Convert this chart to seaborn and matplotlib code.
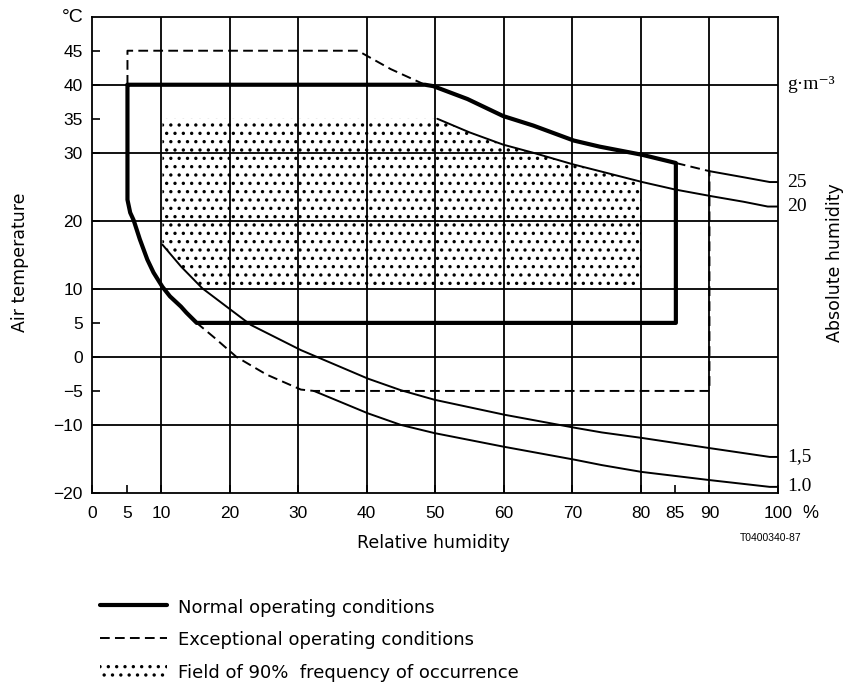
import matplotlib
matplotlib.use("Agg")
import matplotlib.pyplot as plt
from matplotlib.lines import Line2D
from matplotlib.patches import Patch
import seaborn as sns

# ------------------------------------------------------------------
# values
# ------------------------------------------------------------------
rh_ticks = [0, 5, 10, 20, 30, 40, 50, 60, 70, 80, 85, 90, 100]
temp_ticks = [-20, -10, -5, 0, 5, 10, 20, 30, 35, 40, 45]
rh_grid = [10, 20, 30, 40, 50, 60, 70, 80, 90]
temp_grid = [-10, 0, 10, 20, 30, 40]

# normal operating conditions (thick outline)
normal_rh = [5.1, 48.5, 49.7, 54.7, 59.9, 64.3, 70.2, 74.0, 80.2, 85.1, 85.1,
             15.2, 13.7, 12.9, 11.3, 10.2, 8.9, 8.0, 6.9, 6.0, 5.5, 5.1, 5.1]
normal_t = [40, 40, 39.8, 37.9, 35.4, 34.0, 31.8, 30.9, 29.7, 28.5, 5,
            5, 6.5, 7.4, 8.9, 10.3, 12.4, 14.3, 17.3, 20.1, 21.2, 23.1, 40]

# exceptional operating conditions (dashed outline, two pieces)
exc_top_rh = [5.1, 5.1, 38.7, 43.5, 48.5]
exc_top_t = [40, 45, 45, 42.3, 40]
exc_low_rh = [85.1, 90, 90, 32.3, 30.4, 25.4, 21.0, 17.7, 15.2]
exc_low_t = [28.5, 27.3, -5, -5, -4.8, -2.6, 0, 2.9, 5]

# absolute humidity isolines (thin), g/m3
ah25_rh = [90, 95, 98.8, 100]
ah25_t = [27.3, 26.4, 25.7, 25.7]
ah20_rh = [50.3, 55, 59.9, 64.3, 70.1, 74.0, 80.2, 85, 90.4, 95, 98.5, 100]
ah20_t = [35, 33.0, 31.2, 30.0, 28.3, 27.3, 25.7, 24.6, 23.6, 22.8, 22.1, 22.1]
ah15_rh = [10.2, 12.9, 16, 20.2, 23.1, 30.4, 40.2, 45, 49.9, 60.1, 70.3,
           74.3, 80.1, 90, 98.8, 100]
ah15_t = [16.5, 13.3, 10.1, 6.9, 4.7, 1.0, -3.2, -4.9, -6.3, -8.5, -10.4,
          -11.1, -11.9, -13.4, -14.7, -14.7]
ah10_rh = [32.3, 40.2, 45, 49.9, 60, 70.3, 74.3, 80.1, 90, 98.8, 100]
ah10_t = [-5, -8.3, -10, -11.2, -13.2, -15.1, -15.9, -16.9, -18.1, -19.1, -19.1]
ah_labels = ["25", "20", "1,5", "1.0"]

# field of 90 % frequency of occurrence (dotted area)
field_rh = [10.2, 10.2, 50.3, 55, 59.9, 64.3, 70.1, 74.0, 80, 80, 16, 12.9, 10.2]
field_t = [16.5, 35, 35, 33.0, 31.2, 30.0, 28.3, 27.3, 25.8, 10, 10, 13.3, 16.5]

# ------------------------------------------------------------------
# style
# ------------------------------------------------------------------
sns.set_style("white")
plt.rcParams.update({
    "font.family": ["Liberation Sans", "DejaVu Sans"],
    "text.color": "black",
    "axes.labelcolor": "black",
    "xtick.color": "black",
    "ytick.color": "black",
    "hatch.linewidth": 1.2,
    "axes.linewidth": 1.3,
})
SERIF = ["Liberation Serif", "DejaVu Serif"]
LAB = dict(family=["DejaVu Sans"], fontsize=12.5)
THICK, THIN = 3.0, 1.4
DASH = (0, (5, 2.7))

fig = plt.figure(figsize=(8.45, 6.93), dpi=100)
W, H = 845, 693
ax = fig.add_axes([92.5 / W, 1 - 493 / H, (778 - 92.5) / W, (493 - 16.7) / H])

# dotted field
ax.fill(field_rh, field_t, facecolor="white", edgecolor="black",
        hatch="..", linewidth=0, zorder=1)

# grid
for v in rh_grid:
    ax.axvline(v, color="black", lw=1.3, zorder=2)
for v in temp_grid:
    ax.axhline(v, color="black", lw=1.3, zorder=2)

# outlines and isolines
sns.lineplot(x=normal_rh, y=normal_t, sort=False, estimator=None,
             color="black", lw=THICK, ax=ax, zorder=4)
for xs, ys in [(exc_top_rh, exc_top_t), (exc_low_rh, exc_low_t)]:
    sns.lineplot(x=xs, y=ys, sort=False, estimator=None, color="black",
                 lw=THIN, linestyle=DASH, ax=ax, zorder=3)
for xs, ys in [(ah25_rh, ah25_t), (ah20_rh, ah20_t),
               (ah15_rh, ah15_t), (ah10_rh, ah10_t)]:
    sns.lineplot(x=xs, y=ys, sort=False, estimator=None, color="black",
                 lw=THIN, ax=ax, zorder=3)

# isoline labels on the right
for lab, ys in zip(ah_labels, [ah25_t, ah20_t, ah15_t, ah10_t]):
    ax.text(101.3, ys[-1], lab, family=SERIF, fontsize=14, va="center",
            ha="left", clip_on=False)
ax.text(101.3, 40, "g\u00b7m\u207b\u00b3", family=SERIF, fontsize=14,
        va="center", ha="left", clip_on=False)

ax.set_xlim(0, 100)
ax.set_ylim(-20, 50)
ax.set_xticks(rh_ticks)
ax.set_yticks(temp_ticks)
ax.tick_params(direction="in", length=6, width=1.2, labelsize=12.5,
               bottom=True, left=True, top=False, right=False)
ax.tick_params(axis="x", pad=9)
ax.tick_params(axis="y", pad=7)
for s in ax.spines.values():
    s.set_color("black")

# axis texts
fig.text(73 / W, 1 - 17 / H, "\u00b0C", fontsize=14, ha="center", va="center")
fig.text(20 / W, 1 - 262 / H, "Air temperature", rotation=90,
         ha="center", va="center", **LAB)
fig.text(835 / W, 1 - 263 / H, "Absolute humidity", rotation=90,
         ha="center", va="center", **LAB)
fig.text(433 / W, 1 - 543 / H, "Relative humidity",
         ha="center", va="center", **LAB)
fig.text(810 / W, 1 - 514 / H, "%", fontsize=13, ha="center", va="center")
fig.text(740 / W, 1 - 538 / H, "T0400340-87", fontsize=7.5, ha="left",
         va="center")

# legend
handles = [
    Line2D([], [], color="black", lw=THICK),
    Line2D([], [], color="black", lw=THIN, linestyle=DASH),
    Patch(facecolor="white", edgecolor="black", hatch="..", linewidth=0),
]
labels = ["Normal operating conditions", "Exceptional operating conditions",
          "Field of 90%  frequency of occurrence"]
fig.legend(handles, labels, loc="upper left",
           bbox_to_anchor=(100 / W, 1 - 598 / H), frameon=False,
           prop=dict(family="DejaVu Sans", size=13),
           handlelength=3.7, handleheight=1.1, handletextpad=0.6,
           labelspacing=0.75, borderpad=0, borderaxespad=0)

fig.savefig("out.png", dpi=100)
